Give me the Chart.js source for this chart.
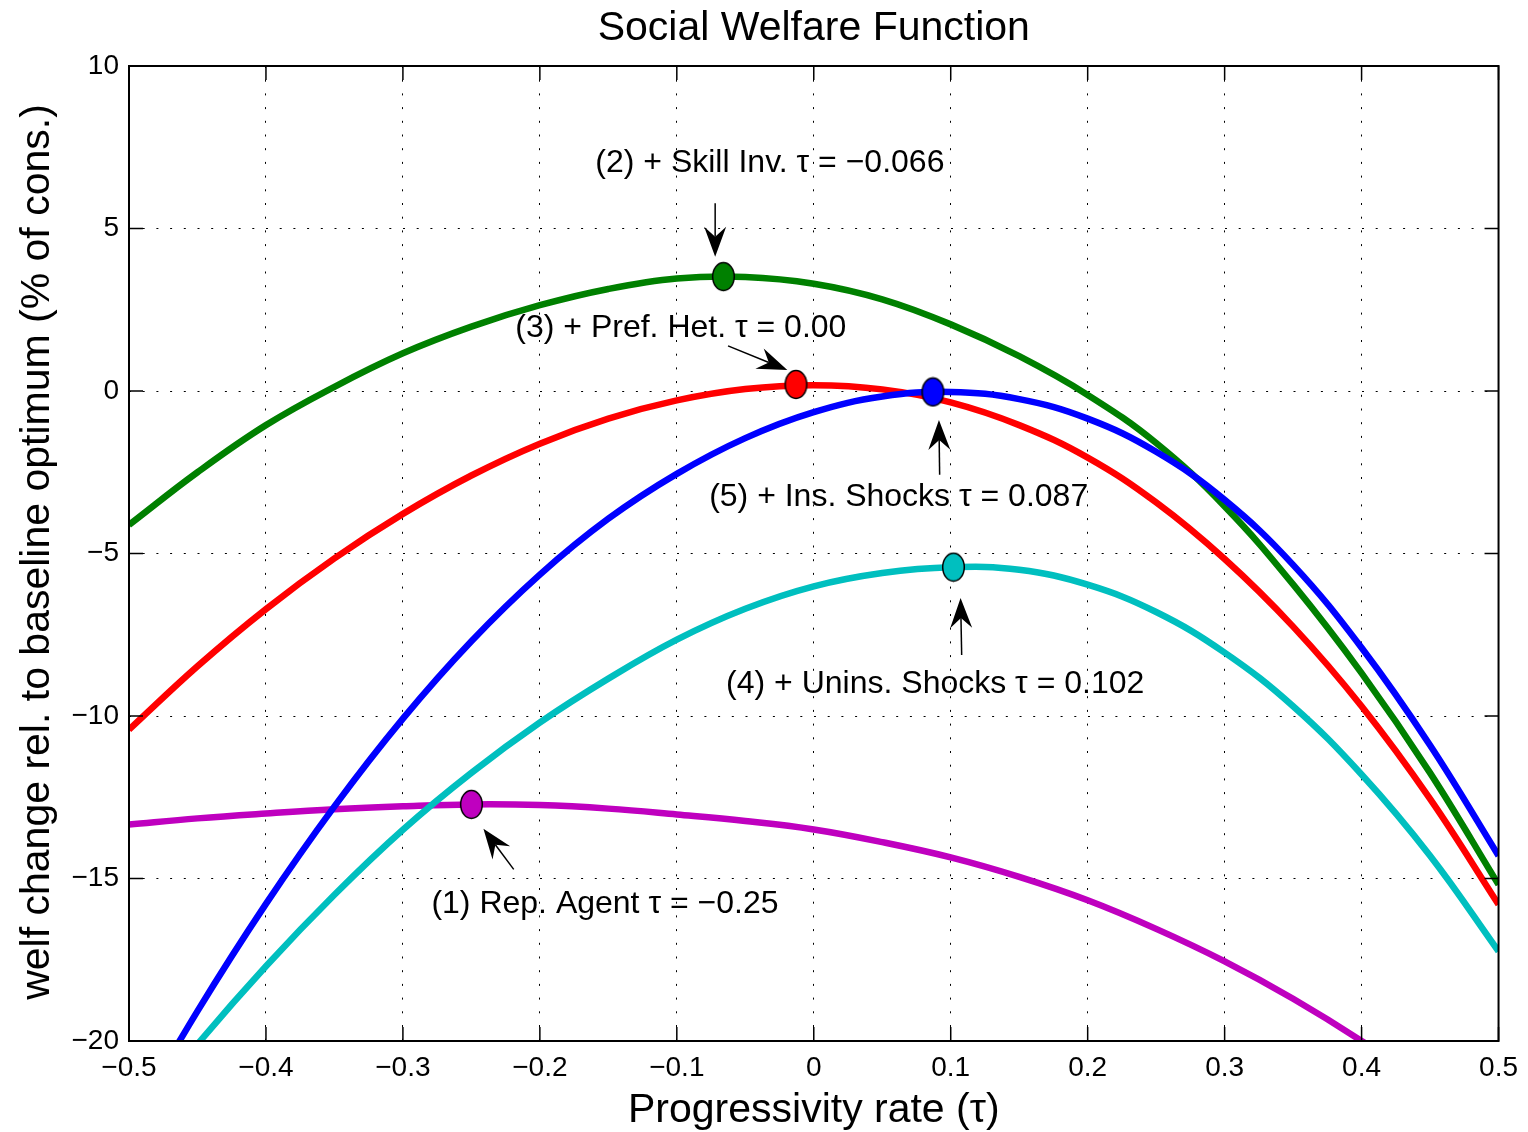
<!DOCTYPE html>
<html lang="en">

<head>
    <meta charset="UTF-8">
    <title>Social Welfare Function</title>
    <style>
        html,
        body {
            margin: 0;
            padding: 0;
            background: #fff;
        }

        #wrap {
            width: 1528px;
            height: 1132px;
        }
    </style>
</head>

<body>
    <div id="wrap">
        <canvas id="swfChart" width="1528" height="1132"></canvas>
    </div>

    <script src="https://cdn.jsdelivr.net/npm/chart.js"></script>
    <script>
        // progressivity rate grid (x)
        const tau = [-0.5, -0.45, -0.4, -0.35, -0.3, -0.25, -0.2, -0.15, -0.1, -0.05, 0,
            0.05, 0.1, 0.15, 0.2, 0.25, 0.3, 0.35, 0.4, 0.45, 0.5];

        // welfare change rel. to baseline optimum, % of cons.
        const repAgent = [-13.34, -13.15, -13.0, -12.87, -12.78, -12.72, -12.74, -12.85, -13.03, -13.23, -13.49,
            -13.88, -14.35, -14.95, -15.67, -16.55, -17.55, -18.7, -20.0, -21.45, -23.05];
        const skillInv = [-4.12, -2.5, -1.05, 0.13, 1.16, 1.98, 2.64, 3.14, 3.46, 3.51, 3.3,
            2.82, 2.05, 1.07, -0.12, -1.6, -3.55, -5.95, -8.68, -11.75, -15.19];
        const prefHet = [-10.42, -8.47, -6.71, -5.15, -3.78, -2.6, -1.62, -0.85, -0.29, 0.06, 0.18,
            0.05, -0.35, -1.05, -2.05, -3.43, -5.17, -7.25, -9.7, -12.55, -15.8];
        const uninsShocks = [-22.7, -20.1, -17.7, -15.5, -13.5, -11.75, -10.2, -8.85, -7.65, -6.7, -6.01,
            -5.6, -5.42, -5.5, -5.96, -6.8, -8.05, -9.7, -11.8, -14.3, -17.24];
        const insShocks = [-22.68, -19.08, -15.78, -12.78, -10.08, -7.7, -5.65, -3.93, -2.55, -1.45, -0.65,
            -0.17, -0.03, -0.25, -0.85, -1.87, -3.35, -5.35, -7.9, -10.9, -14.3];

        // optimum of each model
        const optTau = [-0.25, -0.066, -0.013, 0.102, 0.087];
        const optWelf = [-12.72, 3.52, 0.2, -5.42, -0.03];

        // tick labels
        const xTickLabels = ['\u22120.5', '\u22120.4', '\u22120.3', '\u22120.2', '\u22120.1', '0', '0.1', '0.2', '0.3', '0.4', '0.5'];
        const yTickLabels = ['\u221220', '\u221215', '\u221210', '\u22125', '0', '5', '10'];

        // text annotations (text left/middle, arrow tail -> tip), data units
        const noteText = ['(1) Rep. Agent \u03c4 = \u22120.25', '(2) + Skill Inv. \u03c4 = \u22120.066',
            '(3) + Pref. Het. \u03c4 = 0.00', '(4) + Unins. Shocks \u03c4 = 0.102', '(5) + Ins. Shocks \u03c4 = 0.087'];
        const noteAt = [[-0.2792, -15.77], [-0.1595, 7.04], [-0.2179, 1.97], [-0.064, -8.98], [-0.0764, -3.23]];
        const arrowFrom = [[-0.2191, -14.72], [-0.072, 5.78], [-0.0626, 1.39], [0.108, -8.12], [0.0919, -2.58]];
        const arrowTo = [[-0.2412, -13.47], [-0.072, 4.13], [-0.0193, 0.646], [0.1072, -6.37], [0.0914, -0.89]];

        const colors = ['rgb(191,0,191)', 'rgb(0,128,0)', 'rgb(255,0,0)', 'rgb(0,191,191)', 'rgb(0,0,255)'];
        const fontFam = '"Liberation Sans", Arial, Helvetica, sans-serif';

        function toPoints(ys) {
            return tau.map(function (t, i) { return { x: t, y: ys[i] }; });
        }

        // ellipse shaped marker like matlab's 'o'
        function ellipseMarker(color) {
            const c = document.createElement('canvas');
            c.width = 25;
            c.height = 31;
            const g = c.getContext('2d');
            g.beginPath();
            g.ellipse(12.5, 15.5, 10.8, 14, 0, 0, Math.PI * 2);
            g.fillStyle = color;
            g.fill();
            g.lineWidth = 1.5;
            g.strokeStyle = '#000';
            g.stroke();
            return c;
        }

        function drawArrow(ctx, x0, y0, x1, y1) {
            const ang = Math.atan2(y1 - y0, x1 - x0);
            const ux = Math.cos(ang), uy = Math.sin(ang);
            const nx = -uy, ny = ux;
            const L = 30, W = 11, notch = 10;
            ctx.beginPath();
            ctx.moveTo(x0, y0);
            ctx.lineTo(x1 - (L - notch) * ux, y1 - (L - notch) * uy);
            ctx.stroke();
            ctx.beginPath();
            ctx.moveTo(x1, y1);
            ctx.lineTo(x1 - L * ux + W * nx, y1 - L * uy + W * ny);
            ctx.lineTo(x1 - (L - notch) * ux, y1 - (L - notch) * uy);
            ctx.lineTo(x1 - L * ux - W * nx, y1 - L * uy - W * ny);
            ctx.closePath();
            ctx.fill();
        }

        // box, inward ticks, titles and annotations
        const matlabFrame = {
            id: 'matlabFrame',
            afterDraw(chart) {
                const ctx = chart.ctx;
                const a = chart.chartArea;
                const xs = chart.scales.x, ys = chart.scales.y;
                ctx.save();
                ctx.strokeStyle = '#000';
                ctx.fillStyle = '#000';
                ctx.lineWidth = 2;
                ctx.strokeRect(a.left, a.top, a.right - a.left, a.bottom - a.top);

                ctx.lineWidth = 1.5;
                ctx.beginPath();
                xs.ticks.forEach(function (t) {
                    const p = xs.getPixelForValue(t.value);
                    ctx.moveTo(p, a.bottom); ctx.lineTo(p, a.bottom - 14);
                    ctx.moveTo(p, a.top); ctx.lineTo(p, a.top + 14);
                });
                ys.ticks.forEach(function (t) {
                    const p = ys.getPixelForValue(t.value);
                    ctx.moveTo(a.left, p); ctx.lineTo(a.left + 14, p);
                    ctx.moveTo(a.right, p); ctx.lineTo(a.right - 14, p);
                });
                ctx.stroke();

                // titles
                ctx.font = '41px ' + fontFam;
                ctx.textAlign = 'center';
                ctx.textBaseline = 'middle';
                ctx.fillText('Social Welfare Function', (a.left + a.right) / 2, 29);
                ctx.fillText('Progressivity rate (\u03c4)', (a.left + a.right) / 2, 1111);
                ctx.save();
                ctx.translate(38, 552);
                ctx.rotate(-Math.PI / 2);
                ctx.fillText('welf change rel. to baseline optimum (% of cons.)', 0, 0);
                ctx.restore();

                // annotations
                ctx.font = '32px ' + fontFam;
                ctx.textAlign = 'left';
                noteText.forEach(function (txt, i) {
                    ctx.fillText(txt, xs.getPixelForValue(noteAt[i][0]), ys.getPixelForValue(noteAt[i][1]) + 1);
                });
                ctx.lineWidth = 1.5;
                arrowFrom.forEach(function (f, i) {
                    drawArrow(ctx,
                        xs.getPixelForValue(f[0]), ys.getPixelForValue(f[1]),
                        xs.getPixelForValue(arrowTo[i][0]), ys.getPixelForValue(arrowTo[i][1]));
                });
                ctx.restore();
            }
        };

        const seriesList = [repAgent, skillInv, prefHet, uninsShocks, insShocks];
        const seriesOrder = [5, 4, 3, 2, 1]; // later models drawn on top
        const datasets = seriesList.map(function (s, i) {
            return {
                label: 'model ' + (i + 1),
                data: toPoints(s),
                showLine: true,
                borderColor: colors[i],
                borderWidth: 6.5,
                pointRadius: 0,
                tension: 0.4,
                clip: 0,
                order: seriesOrder[i]
            };
        });
        datasets.push({
            label: 'optimum',
            data: optTau.map(function (t, i) { return { x: t, y: optWelf[i] }; }),
            showLine: false,
            pointStyle: colors.map(ellipseMarker),
            pointRadius: 14,
            order: 0
        });

        const swfChart = new Chart(document.getElementById('swfChart'), {
            type: 'scatter',
            data: { datasets: datasets },
            options: {
                responsive: false,
                animation: false,
                devicePixelRatio: 1,
                events: [],
                layout: { padding: { left: 0, top: 66, right: 28, bottom: 0 } },
                elements: { line: { capBezierPoints: false } },
                plugins: {
                    legend: { display: false },
                    tooltip: { enabled: false },
                    title: { display: false }
                },
                scales: {
                    x: {
                        type: 'linear',
                        min: -0.5,
                        max: 0.5,
                        ticks: {
                            stepSize: 0.1,
                            autoSkip: false,
                            maxRotation: 0,
                            color: '#000',
                            padding: 10,
                            font: { size: 28, family: fontFam },
                            callback: function (v, i) { return xTickLabels[i]; }
                        },
                        grid: { color: '#000', lineWidth: 1, drawTicks: false },
                        border: { display: false, dash: [2, 11.7] },
                        afterFit: function (s) { s.height = 91; }
                    },
                    y: {
                        type: 'linear',
                        min: -20,
                        max: 10,
                        ticks: {
                            stepSize: 5,
                            color: '#000',
                            padding: 10,
                            font: { size: 28, family: fontFam },
                            callback: function (v, i) { return yTickLabels[i]; }
                        },
                        grid: { color: '#000', lineWidth: 1, drawTicks: false },
                        border: { display: false, dash: [2, 11.7] },
                        afterFit: function (s) { s.width = 129; }
                    }
                }
            },
            plugins: [matlabFrame]
        });
    </script>
</body>

</html>
